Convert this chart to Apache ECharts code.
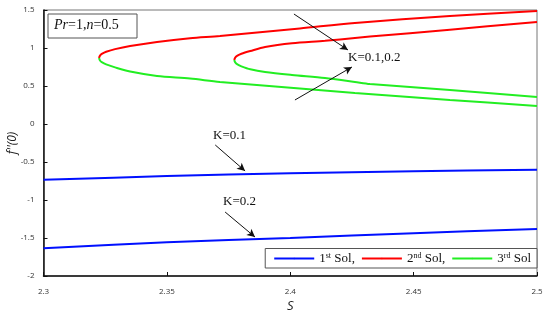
<!DOCTYPE html>
<html>
<head>
<meta charset="utf-8">
<script src="https://cdn.jsdelivr.net/npm/echarts@6/dist/echarts.min.js"></script>
<style>
    html, body { margin: 0; padding: 0; background: #fff; }
    #chart { width: 550px; height: 316px; }
</style>
</head>
<body>
<div id="chart"></div>
<script>
// values, [S, f''(0)]
const firstSolK01 = [[2.30, -0.735], [2.35, -0.685], [2.40, -0.648], [2.45, -0.622], [2.50, -0.603]];
const firstSolK02 = [[2.30, -1.635], [2.35, -1.555], [2.40, -1.500], [2.45, -1.436], [2.50, -1.382]];

const secondSolK01 = [[2.3225, 0.868], [2.3229, 0.900], [2.3238, 0.925], [2.3254, 0.950], [2.3290, 0.985],
    [2.3351, 1.026], [2.3460, 1.079], [2.3594, 1.128], [2.3715, 1.158], [2.4039, 1.257], [2.4262, 1.329],
    [2.4647, 1.421], [2.5000, 1.487]];
const thirdSolK01 = [[2.3225, 0.868], [2.3229, 0.836], [2.3238, 0.810], [2.3254, 0.785], [2.3290, 0.745],
    [2.3351, 0.690], [2.3460, 0.632], [2.3594, 0.598], [2.3715, 0.553], [2.4039, 0.467], [2.4262, 0.408],
    [2.4647, 0.316], [2.5000, 0.237]];

const secondSolK02 = [[2.3773, 0.842], [2.3777, 0.874], [2.3786, 0.899], [2.3802, 0.924], [2.3838, 0.960],
    [2.3898, 1.013], [2.4007, 1.062], [2.4141, 1.095], [2.4262, 1.132], [2.4323, 1.150], [2.4647, 1.241],
    [2.5000, 1.342]];
const thirdSolK02 = [[2.3773, 0.842], [2.3777, 0.810], [2.3786, 0.784], [2.3802, 0.759], [2.3838, 0.720],
    [2.3898, 0.684], [2.4007, 0.645], [2.4141, 0.605], [2.4262, 0.553], [2.4323, 0.526], [2.4647, 0.447],
    [2.5000, 0.355]];

const legendNames = ['1st Sol,', '2nd Sol,', '3rd Sol'];
const legendRich = {
    '1st Sol,': '{t|1}{s|st}{t| Sol,}',
    '2nd Sol,': '{t|2}{s|nd}{t| Sol,}',
    '3rd Sol': '{t|3}{s|rd}{t| Sol}'
};

// arrows, in data coordinates
const arrows = [
    [[2.4015, 1.447], [2.4234, 0.974]],
    [[2.4019, 0.316], [2.4250, 0.750]],
    [[2.3696, -0.276], [2.3817, -0.618]],
    [[2.3736, -1.158], [2.3857, -1.487]]
];

const serif = 'Liberation Serif';
const sans = 'Open Sans';

function curve(name, data, color) {
    return {
        name: name,
        type: 'line',
        data: data,
        smooth: 0.3,
        symbol: 'none',
        lineStyle: { color: color, width: 2 },
        itemStyle: { color: color },
        z: 3
    };
}

const chart = echarts.init(document.getElementById('chart'));

chart.setOption({
    animation: false,
    backgroundColor: '#fff',
    grid: {
        left: 43.5, right: 13, top: 10, bottom: 40,
        containLabel: false,
        outerBoundsMode: 'none',
        show: true, borderColor: '#777', borderWidth: 1
    },
    legend: {
        data: legendNames,
        right: 13,
        bottom: 48,
        orient: 'horizontal',
        backgroundColor: '#fff',
        borderColor: '#555',
        borderWidth: 1,
        padding: [3, 6, 3, 8],
        itemWidth: 40,
        itemHeight: 2,
        itemGap: 6,
        formatter: function (name) {
            return legendRich[name];
        },
        textStyle: {
            rich: {
                t: { fontFamily: serif, fontSize: 13, color: '#111' },
                s: { fontFamily: serif, fontSize: 8, color: '#111', verticalAlign: 'top', padding: [0, 0, 6, 0] }
            }
        }
    },
    xAxis: {
        type: 'value',
        min: 2.3, max: 2.5, interval: 0.05,
        name: 'S',
        nameLocation: 'middle',
        nameGap: 24,
        nameMoveOverlap: false,
        nameTextStyle: { fontFamily: sans, fontStyle: 'italic', fontSize: 13, color: '#222' },
        axisLine: { onZero: false, lineStyle: { color: '#111', width: 1.5 } },
        axisTick: { inside: true, length: 4, lineStyle: { color: '#111' } },
        axisLabel: {
            fontFamily: sans, fontSize: 8, color: '#333', margin: 12,
            formatter: function (v) { return String(+v.toFixed(2)); }
        },
        splitLine: { show: false }
    },
    yAxis: {
        type: 'value',
        min: -2, max: 1.5, interval: 0.5,
        name: "f''(0)",
        nameLocation: 'middle',
        nameGap: 25,
        nameMoveOverlap: false,
        nameTextStyle: { fontFamily: sans, fontStyle: 'italic', fontSize: 12, color: '#222' },
        axisLine: { onZero: false, lineStyle: { color: '#111', width: 1.5 } },
        axisTick: { inside: true, length: 4, lineStyle: { color: '#111' } },
        axisLabel: {
            fontFamily: sans, fontSize: 8, color: '#333', margin: 9,
            formatter: function (v) { return String(+v.toFixed(1)); }
        },
        splitLine: { show: false }
    },
    series: [
        curve('1st Sol,', firstSolK01, '#0010ff'),
        curve('1st Sol,', firstSolK02, '#0010ff'),
        curve('2nd Sol,', secondSolK01, '#ff0000'),
        curve('2nd Sol,', secondSolK02, '#ff0000'),
        curve('3rd Sol', thirdSolK01, '#22ee22'),
        curve('3rd Sol', thirdSolK02, '#22ee22'),
        {
            name: 'arrows',
            type: 'line',
            data: [],
            markLine: {
                silent: true,
                symbol: ['none', 'arrow'],
                symbolSize: [6, 8],
                label: { show: false },
                lineStyle: { color: '#111', width: 1, type: 'solid' },
                data: arrows.map(function (a) {
                    return [{ coord: a[0] }, { coord: a[1] }];
                })
            }
        }
    ],
    graphic: [
        {
            type: 'rect',
            shape: { x: 48, y: 14, width: 89, height: 24 },
            style: { fill: '#fff', stroke: '#555', lineWidth: 1 }
        },
        {
            type: 'text',
            left: 54, top: 18,
            style: {
                text: '{i|Pr}{t|=1,}{i|n}{t|=0.5}',
                rich: {
                    i: { fontFamily: serif, fontStyle: 'italic', fontSize: 14, fill: '#111' },
                    t: { fontFamily: serif, fontSize: 14, fill: '#111' }
                }
            }
        },
        {
            type: 'text', left: 348, top: 51,
            style: { text: 'K=0.1,0.2', font: '13px "Liberation Serif"', fill: '#111' }
        },
        {
            type: 'text', left: 213, top: 129,
            style: { text: 'K=0.1', font: '13px "Liberation Serif"', fill: '#111' }
        },
        {
            type: 'text', left: 223, top: 195,
            style: { text: 'K=0.2', font: '13px "Liberation Serif"', fill: '#111' }
        }
    ]
});
</script>
</body>
</html>
